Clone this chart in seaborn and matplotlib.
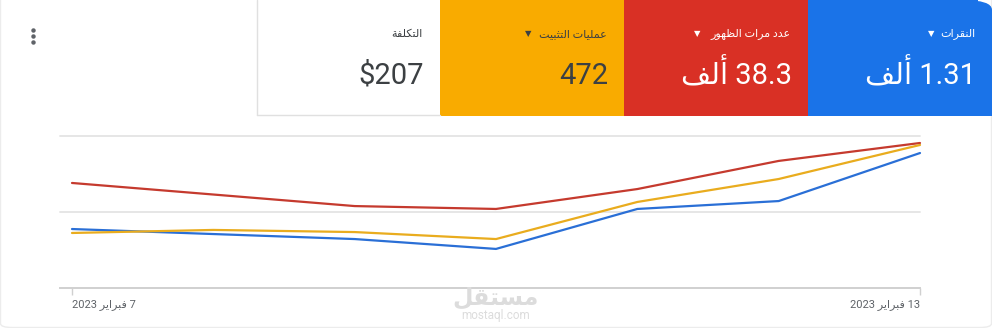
import matplotlib
matplotlib.use("Agg")
import matplotlib.pyplot as plt
import seaborn as sns
import pandas as pd
from matplotlib.patches import Rectangle, FancyBboxPatch

# ---------------- data ----------------
days = [7, 8, 9, 10, 11, 12, 13]
clicks = [38.8, 35.5, 32.2, 25.7, 52.0, 57.2, 88.8]
impressions = [69.1, 61.5, 53.9, 52.0, 65.1, 83.6, 95.4]
installs = [36.2, 38.2, 36.8, 32.2, 56.6, 71.7, 94.1]
series_names = ["النقرات", "عدد مرات الظهور", "عمليات التثبيت"]
tick_labels = ["7 فبراير 2023", "13 فبراير 2023"]
card_titles = ["النقرات", "عدد مرات الظهور", "عمليات التثبيت", "التكلفة"]
card_values = ["1.31 ألف", "38.3 ألف", "472", "$207"]

# ---------------- minimal Arabic shaping (visual order) ----------------
FORMS = {
    'ا': ('\uFE8D', '\uFE8E', None, None),
    'أ': ('\uFE83', '\uFE84', None, None),
    'ب': ('\uFE8F', '\uFE90', '\uFE91', '\uFE92'),
    'ة': ('\uFE93', '\uFE94', None, None),
    'ت': ('\uFE95', '\uFE96', '\uFE97', '\uFE98'),
    'ث': ('\uFE99', '\uFE9A', '\uFE9B', '\uFE9C'),
    'د': ('\uFEA9', '\uFEAA', None, None),
    'ر': ('\uFEAD', '\uFEAE', None, None),
    'س': ('\uFEB1', '\uFEB2', '\uFEB3', '\uFEB4'),
    'ظ': ('\uFEC5', '\uFEC6', '\uFEC7', '\uFEC8'),
    'ع': ('\uFEC9', '\uFECA', '\uFECB', '\uFECC'),
    'ف': ('\uFED1', '\uFED2', '\uFED3', '\uFED4'),
    'ق': ('\uFED5', '\uFED6', '\uFED7', '\uFED8'),
    'ك': ('\uFED9', '\uFEDA', '\uFEDB', '\uFEDC'),
    'ل': ('\uFEDD', '\uFEDE', '\uFEDF', '\uFEE0'),
    'م': ('\uFEE1', '\uFEE2', '\uFEE3', '\uFEE4'),
    'ن': ('\uFEE5', '\uFEE6', '\uFEE7', '\uFEE8'),
    'ه': ('\uFEE9', '\uFEEA', '\uFEEB', '\uFEEC'),
    'و': ('\uFEED', '\uFEEE', None, None),
    'ي': ('\uFEF1', '\uFEF2', '\uFEF3', '\uFEF4'),
}
LAMALEF = {'ا': ('\uFEFB', '\uFEFC'), 'أ': ('\uFEF7', '\uFEF8')}


def shape_word(w):
    units = []
    i = 0
    while i < len(w):
        c = w[i]
        if c == 'ل' and i + 1 < len(w) and w[i + 1] in LAMALEF:
            iso, fin = LAMALEF[w[i + 1]]
            units.append((iso, fin, None, None))
            i += 2
        else:
            units.append(FORMS.get(c, (c, None, None, None)))
            i += 1
    out = []
    for k, u in enumerate(units):
        jp = k > 0 and units[k - 1][2] is not None and u[1] is not None
        jn = k + 1 < len(units) and u[2] is not None and units[k + 1][1] is not None
        if jp and jn:
            out.append(u[3])
        elif jp:
            out.append(u[1])
        elif jn:
            out.append(u[2])
        else:
            out.append(u[0])
    return ''.join(out[::-1])


def rtl(s):
    toks = s.split(' ')[::-1]
    res = []
    for t in toks:
        if any(ch in FORMS for ch in t):
            res.append(shape_word(t))
        else:
            res.append(t)
    return ' '.join(res)


# ---------------- figure ----------------
sns.set_theme(style="white")
plt.rcParams['font.family'] = ['Roboto', 'DejaVu Sans']

W, H = 992, 328
fig = plt.figure(figsize=(W / 100, H / 100), dpi=100)
fig.patch.set_facecolor('white')


def fx(x):
    return x / W


def fy(y):
    return 1 - y / H


# outer rounded border (only the lower part is visible in the reference)
fig.patches.append(FancyBboxPatch((fx(0.5), fy(327.5)), fx(991), 360 / H,
                                  boxstyle="round,pad=0,rounding_size=0.012",
                                  transform=fig.transFigure, fill=False,
                                  edgecolor='#ececec', linewidth=1, zorder=0))

# cards
card_x = [808, 624, 440, 256]
card_colors = ['#1a73e8', '#d93025', '#f9ab00', 'white']
title_colors = ['white', 'white', '#3c4043', '#3c4043']
value_colors = ['white', 'white', '#3c4043', '#3c4043']
arrow_x = [931, 697, 528, None]
card_w = 184
card_h = 116

for i in range(4):
    x0 = card_x[i]
    if i == 0:
        fig.patches.append(FancyBboxPatch((fx(x0), fy(card_h)), fx(card_w), card_h / H,
                                          boxstyle="round,pad=0,rounding_size=0.03",
                                          transform=fig.transFigure, facecolor=card_colors[i],
                                          edgecolor='none', zorder=1))
        fig.patches.append(Rectangle((fx(x0), fy(card_h)), fx(card_w - 14), card_h / H,
                                     transform=fig.transFigure, facecolor=card_colors[i],
                                     edgecolor='none', zorder=1))
        fig.patches.append(Rectangle((fx(x0), fy(card_h)), fx(card_w), (card_h - 14) / H,
                                     transform=fig.transFigure, facecolor=card_colors[i],
                                     edgecolor='none', zorder=1))
    else:
        fig.patches.append(Rectangle((fx(x0), fy(card_h)), fx(card_w), card_h / H,
                                     transform=fig.transFigure, facecolor=card_colors[i],
                                     edgecolor='none', zorder=1))
    right = x0 + card_w - 17
    fig.text(fx(right), fy(34), rtl(card_titles[i]), ha='right', va='center',
             fontsize=8, color=title_colors[i], zorder=3)
    fig.text(fx(right + 1), fy(84), rtl(card_values[i]), ha='right', va='baseline',
             fontsize=21, color=value_colors[i], zorder=3)
    if arrow_x[i] is not None:
        fig.text(fx(arrow_x[i]), fy(34), '▼', ha='center', va='center',
                 fontsize=6, color=title_colors[i], family='DejaVu Sans', zorder=3)

# white card border (left and bottom)
fig.lines.append(plt.Line2D([fx(256.5), fx(256.5)], [fy(0), fy(115.5)],
                            transform=fig.transFigure, color='#e0e0e0', lw=1, zorder=2))
fig.lines.append(plt.Line2D([fx(256.5), fx(440)], [fy(115.5), fy(115.5)],
                            transform=fig.transFigure, color='#e0e0e0', lw=1, zorder=2))

# three-dot menu
fig.lines.append(plt.Line2D([fx(32.5)] * 3, [fy(30), fy(36), fy(42)],
                            transform=fig.transFigure, linestyle='none', marker='o',
                            markersize=3.2, markerfacecolor='#5f6368',
                            markeredgecolor='none', zorder=3))

# ---------------- chart ----------------
ax_left, ax_right, ax_top, ax_bottom = 60, 920, 136, 288
ax = fig.add_axes([fx(ax_left), fy(ax_bottom), fx(ax_right - ax_left),
                   (ax_bottom - ax_top) / H])
ax.set_facecolor('none')

df = pd.DataFrame({
    'day': days * 3,
    'value': clicks + impressions + installs,
    'metric': [series_names[0]] * 7 + [series_names[1]] * 7 + [series_names[2]] * 7,
})
palette = {series_names[0]: '#2a6fd6', series_names[1]: '#c53a2e', series_names[2]: '#e9ac1e'}
sns.lineplot(data=df, x='day', y='value', hue='metric', palette=palette, ax=ax,
             linewidth=1.6, legend=False, clip_on=False, zorder=3)

step = (days[-1] - days[0]) / (ax_right - 72)
ax.set_xlim(days[0] - 12 * step, days[-1])
ax.set_ylim(0, 100)

for gy in (50, 100):
    ax.axhline(gy, color='#e6e6e6', lw=1.4, zorder=1, clip_on=False)
for s in ('top', 'right', 'left'):
    ax.spines[s].set_visible(False)
ax.spines['bottom'].set_color('#d0d0d0')
ax.spines['bottom'].set_linewidth(1.4)

ax.set_yticks([])
ax.set_xticks([days[0], days[-1]])
ax.set_xticklabels([rtl(t) for t in tick_labels])
ax.tick_params(axis='x', length=5, width=1, color='#d0d0d0', labelsize=8,
               labelcolor='#5f6368', pad=3)
ax.tick_params(axis='x', bottom=True)
lbls = ax.get_xticklabels()
lbls[0].set_ha('left')
lbls[1].set_ha('right')
ax.set_xlabel('')
ax.set_ylabel('')

# watermark
fig.text(fx(496), fy(305), rtl('مستقل'), ha='center', va='baseline', fontsize=17,
         fontweight='bold', color='#dcdcdc', zorder=0, family=['DejaVu Sans'])
fig.text(fx(496), fy(319), 'mostaql.com', ha='center', va='baseline', fontsize=8.5,
         color='#dcdcdc', zorder=0)

fig.savefig('out.png', dpi=100, facecolor='white')
